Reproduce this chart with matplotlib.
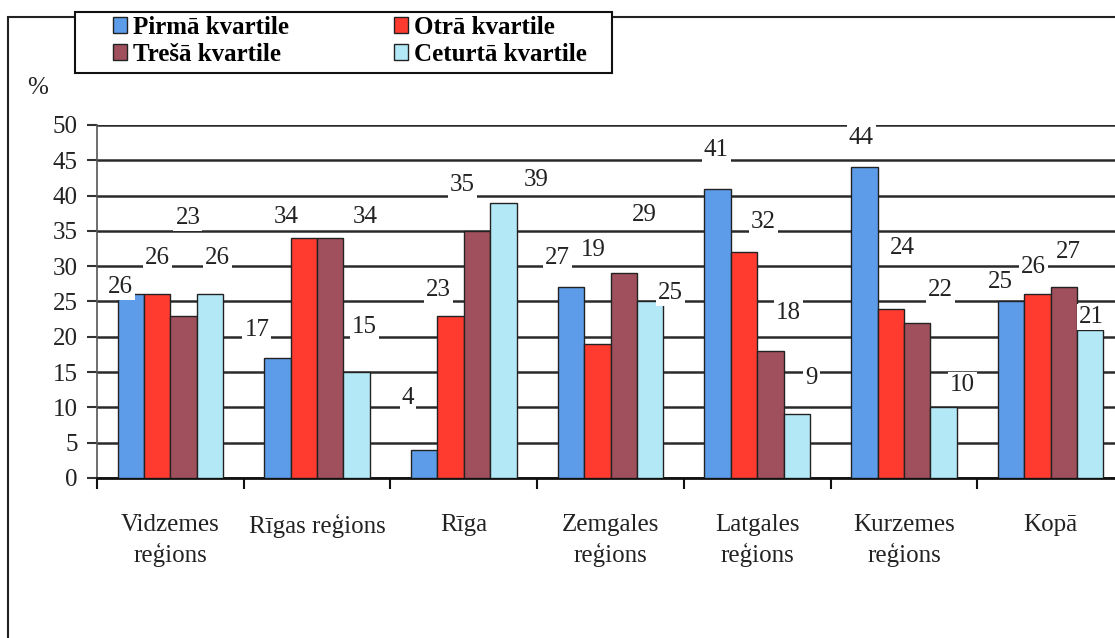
import matplotlib
matplotlib.use("Agg")
from matplotlib import pyplot as plt
from matplotlib.patches import Rectangle
import numpy as np

plt.rcParams['font.family'] = ['Liberation Serif', 'DejaVu Serif']

regions = ['Vidzemes\nreģions', 'Rīgas reģions', 'Rīga', 'Zemgales\nreģions',
           'Latgales\nreģions', 'Kurzemes\nreģions', 'Kopā']
series = ['Pirmā kvartile', 'Otrā kvartile', 'Trešā kvartile', 'Ceturtā kvartile']
q1 = [26, 17, 4, 27, 41, 44, 25]
q2 = [26, 34, 23, 19, 32, 24, 26]
q3 = [23, 34, 35, 29, 18, 22, 27]
q4 = [26, 15, 39, 25, 9, 10, 21]

colors = ['#5d9ce8', '#ff3b2f', '#a0505c', '#b3e9f7']

# where each value label sits relative to the top of its bar
label_dx = [[-0.07, 0.00, 0.03, 0.05],
            [-0.14, -0.12, 0.24, 0.05],
            [-0.11, -0.08, -0.10, 0.22],
            [-0.09, -0.03, 0.14, 0.14],
            [-0.01, 0.13, 0.12, 0.10],
            [-0.02, 0.08, 0.16, 0.13],
            [-0.07, -0.03, 0.03, 0.01]]
label_dy = [[1.0, 5.2, 13.8, 5.2],
            [4.0, 3.0, 3.0, 6.4],
            [7.3, 3.6, 6.5, 3.2],
            [4.2, 13.3, 8.3, 1.2],
            [5.5, 4.3, 5.4, 5.2],
            [4.2, 8.6, 4.6, 3.2],
            [2.8, 3.9, 5.0, 1.8]]

fig = plt.figure(figsize=(11.15, 6.38), dpi=100)
ax = fig.add_axes([0.087, 0.2508, 0.9211, 0.5533])

x = np.arange(len(regions))
w = 0.18
handles = []
for j, vals in enumerate([q1, q2, q3, q4]):
    pos = x + (j - 1.5) * w
    b = ax.bar(pos, vals, w, color=colors[j], edgecolor='#222222', linewidth=1.0,
               label=series[j], zorder=3)
    handles.append(b)
    for i, v in enumerate(vals):
        ax.text(pos[i] + label_dx[i][j], v + label_dy[i][j], str(v),
                ha='center', va='center', fontsize=18, color='#222222', zorder=5,
                bbox=dict(facecolor='white', edgecolor='none', pad=1.5))

ax.set_xlim(-0.5, 6.5)
ax.set_ylim(0, 50)
ax.set_yticks(np.arange(0, 51, 5))
ax.tick_params(axis='y', labelsize=18, length=7, width=1.5, color='#333333', pad=7,
               labelcolor='#222222')
ax.yaxis.grid(True, color='#2a2a2a', linewidth=1.8, zorder=0)
ax.set_axisbelow(True)

ax.set_xticks(x)
ax.set_xticklabels(regions, fontsize=18, color='#222222', linespacing=1.35)
ax.tick_params(axis='x', which='major', length=0, pad=26)
ax.set_xticks(np.arange(-0.5, 7, 1), minor=True)
ax.tick_params(axis='x', which='minor', length=8, width=1.5, color='#111111', direction='out')

for s in ['top', 'right']:
    ax.spines[s].set_visible(False)
ax.spines['left'].set_color('#555555')
ax.spines['left'].set_linewidth(1.2)
ax.spines['bottom'].set_color('#111111')
ax.spines['bottom'].set_linewidth(2.0)

# outer chart frame
fig.patches.append(Rectangle((8 / 1115, -0.1), 2.0, 1.1 - 17 / 638, transform=fig.transFigure,
                             fill=False, edgecolor='#222222', linewidth=1.5, zorder=0))

# legend box
fig.patches.append(Rectangle((75 / 1115, 1 - 73 / 638), 537 / 1115, 61 / 638,
                             transform=fig.transFigure, facecolor='white',
                             edgecolor='#111111', linewidth=1.5, zorder=1))
leg = fig.legend([handles[0], handles[2], handles[1], handles[3]],
                 [series[0], series[2], series[1], series[3]],
                 ncol=2, loc='upper left', bbox_to_anchor=(98 / 1115, 1 - 1 / 638),
                 frameon=False, prop={'weight': 'bold', 'size': 18},
                 handlelength=0.55, handleheight=0.6, handletextpad=0.25,
                 columnspacing=4.2, labelspacing=0.15, borderpad=0.1)
leg.set_zorder(2)

fig.text(38 / 1115, 1 - 88 / 638, '%', fontsize=18, ha='center', va='center', color='#222222')

fig.savefig('out.png', dpi=100, facecolor='white')
